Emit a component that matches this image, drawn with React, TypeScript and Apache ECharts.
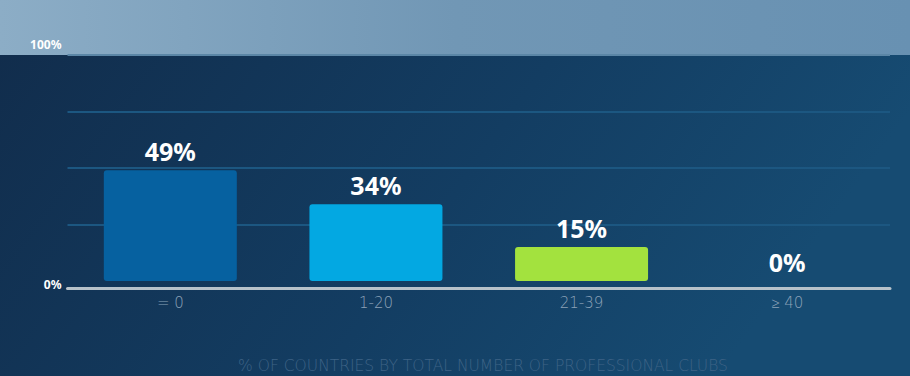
import React, { useEffect, useRef } from "react";
import * as echarts from "echarts";

const categories = ["= 0", "1-20", "21-39", "≥ 40"];
const values = [49, 34, 15, 0];
const barColors = ["#0661a0", "#03a8e2", "#a3e23e"];
const yTickLabels: Record<number, string> = { 0: "0%", 100: "100%" };
const chartTitle = "% OF COUNTRIES BY TOTAL NUMBER OF PROFESSIONAL CLUBS";

export default function App() {
  const ref = useRef<HTMLDivElement>(null);
  useEffect(() => {
    document.body.style.margin = "0";
    const chart = echarts.init(ref.current!, undefined, { renderer: "svg" });
    const gridColor = "#1c5781";
    chart.setOption({
      animation: false,
      backgroundColor: {
        type: "linear",
        x: 0,
        y: 0,
        x2: 1,
        y2: 0.3,
        colorStops: [
          { offset: 0, color: "#112c4b" },
          { offset: 0.6, color: "#133d62" },
          { offset: 1, color: "#164b72" },
        ],
      },
      graphic: [
        {
          type: "rect",
          z: -1,
          shape: { x: 0, y: 0, width: 910, height: 55 },
          style: {
            fill: {
              type: "linear",
              x: 0,
              y: 0,
              x2: 1,
              y2: 0,
              colorStops: [
                { offset: 0, color: "#8cadc6" },
                { offset: 0.5, color: "#7197b5" },
                { offset: 1, color: "#6891b2" },
              ],
            },
          },
        },
      ],
      title: {
        text: chartTitle,
        left: 478,
        top: 353,
        textAlign: "center",
        textStyle: {
          color: "#3e6386",
          fontSize: 15.5,
          fontWeight: 300,
          fontFamily: "DejaVu Sans",
        },
      },
      grid: { left: 67.5, right: 20, top: 55, bottom: 95, containLabel: false },
      xAxis: {
        type: "category",
        data: categories,
        offset: 7,
        axisLine: { show: true, onZero: false, lineStyle: { color: "#b7c2ca", width: 3 } },
        axisTick: { show: false },
        axisLabel: {
          color: "#8ca2b8",
          fontSize: 15,
          margin: 7,
          fontFamily: "DejaVu Sans",
          fontWeight: 300,
        },
      },
      yAxis: {
        type: "value",
        min: 0,
        max: 100,
        interval: 25,
        axisLine: { show: false },
        axisTick: { show: false },
        splitLine: {
          show: true,
          lineStyle: {
            color: ["rgba(0,0,0,0)", gridColor, gridColor, gridColor, "#5b86a6"],
            width: 2,
          },
        },
        axisLabel: {
          margin: 6,
          formatter: (v: number) => {
            const t = yTickLabels[v];
            if (!t) return "";
            return v === 100 ? `{top|${t}}` : `{bot|${t}}`;
          },
          rich: {
            top: {
              color: "#ffffff",
              fontSize: 12,
              fontWeight: "bold",
              fontFamily: "Noto Sans",
              padding: [0, 0, 22, 0],
            },
            bot: {
              color: "#ffffff",
              fontSize: 12,
              fontWeight: "bold",
              fontFamily: "Noto Sans",
              padding: [6, 0, 0, 0],
            },
          },
        },
      },
      series: [
        {
          type: "bar",
          barWidth: 133,
          data: values.map((v, i) => ({
            value: v,
            itemStyle: { color: barColors[i % barColors.length], borderRadius: 3 },
          })),
          label: {
            show: true,
            position: "top",
            distance: 7,
            formatter: "{c}%",
            color: "#ffffff",
            fontSize: 25,
            fontWeight: "bold",
            fontFamily: "Noto Sans",
          },
        },
      ],
    });
    return () => chart.dispose();
  }, []);
  return <div ref={ref} style={{ width: 910, height: 376 }} />;
}
